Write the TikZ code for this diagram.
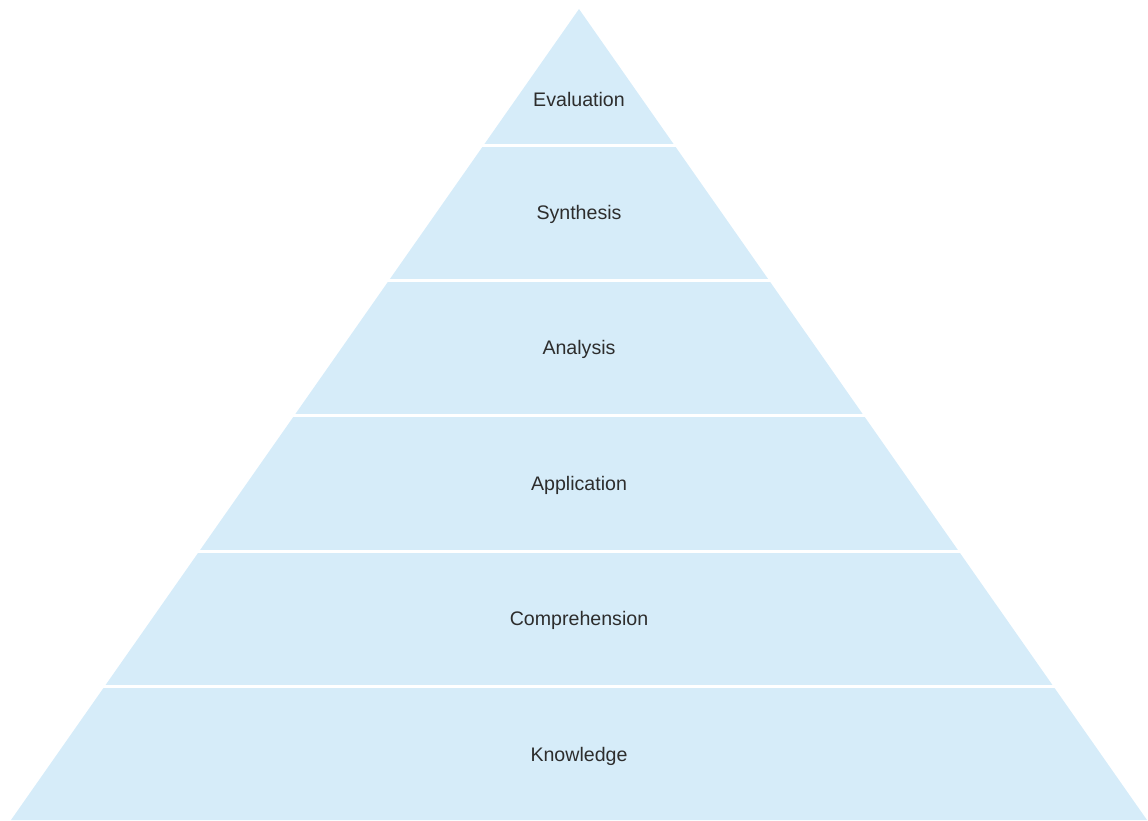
\documentclass[tikz,border=0pt]{standalone}
\usepackage{fontspec}
\setmainfont{Liberation Sans}
\definecolor{tierblue}{RGB}{214,236,249}
\definecolor{txt}{RGB}{45,45,45}
\begin{document}
\begin{tikzpicture}[x=1pt,y=-1pt,
  tiertext/.style={text=txt,font=\fontsize{19.6}{22}\selectfont,inner sep=0pt},
  sep/.style={draw=white,line width=3pt}]
\useasboundingbox (0,0) rectangle (1148,820);
\coordinate (apex) at (579,9);
\coordinate (bl) at (11,820);
\coordinate (br) at (1147,820);
\fill[tierblue] (apex) -- (bl) -- (br) -- cycle;
\foreach \y in {145,280.5,415.5,551,686.5} {
  \draw[sep] (0,\y) -- (1148,\y);
}
\node[tiertext] (evaluation) at (579,99) {Evaluation};
\node[tiertext] (synthesis) at (579,214) {Synthesis};
\node[tiertext] (analysis) at (579,349) {Analysis};
\node[tiertext] (application) at (579,485) {Application};
\node[tiertext] (comprehension) at (579,620) {Comprehension};
\node[tiertext] (knowledge) at (579,756) {Knowledge};
\end{tikzpicture}
\end{document}
